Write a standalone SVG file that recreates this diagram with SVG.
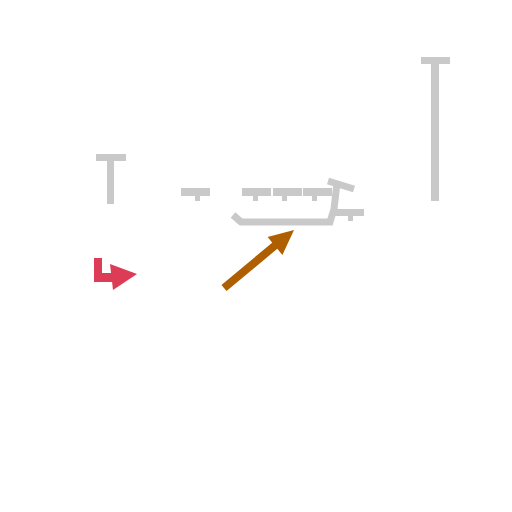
<svg xmlns="http://www.w3.org/2000/svg" width="512" height="512" viewBox="0 0 512 512">
<style>
.g{fill:#c9c9c9}
.gs{fill:none;stroke:#c9c9c9;stroke-linejoin:miter}
</style>
<rect width="512" height="512" fill="#ffffff"/>
<g id="post-left">
<rect class="g" x="96" y="154" width="30" height="7"/>
<rect class="g" x="107" y="160" width="7" height="44"/>
</g>
<g id="post-right">
<rect class="g" x="421" y="57" width="29" height="7"/>
<rect class="g" x="431" y="63" width="8" height="138"/>
</g>
<g id="structure">
<rect class="g" x="181" y="188" width="29" height="8"/>
<rect class="g" x="195" y="196" width="5" height="5"/>
<rect class="g" x="242" y="188" width="29" height="8"/>
<rect class="g" x="273" y="188" width="29" height="8"/>
<rect class="g" x="303" y="188" width="29" height="8"/>
<rect class="g" x="253" y="196" width="5" height="5"/>
<rect class="g" x="282" y="196" width="5" height="5"/>
<rect class="g" x="312" y="196" width="5" height="5"/>
<polyline class="gs" stroke-width="7" points="233,215 241,222 330,222 334,209 337,183"/>
<line class="gs" stroke-width="7" x1="328" y1="181" x2="354" y2="189"/>
<rect class="g" x="335" y="209" width="29" height="7"/>
<rect class="g" x="348" y="216" width="5" height="5"/>
</g>
<g id="connectors">
<g id="red-arrow" fill="#dc3c55">
<polygon points="94,258 102,258 102,273 112,273 112,282 94,282"/>
<polygon points="110,264 137,274 113,290"/>
</g>
<g id="brown-arrow">
<line x1="224" y1="288" x2="278" y2="243" stroke="#b05f00" stroke-width="8"/>
<polygon points="294,230 267.6,237 282.4,255" fill="#b05f00"/>
</g>
</g>
</svg>
